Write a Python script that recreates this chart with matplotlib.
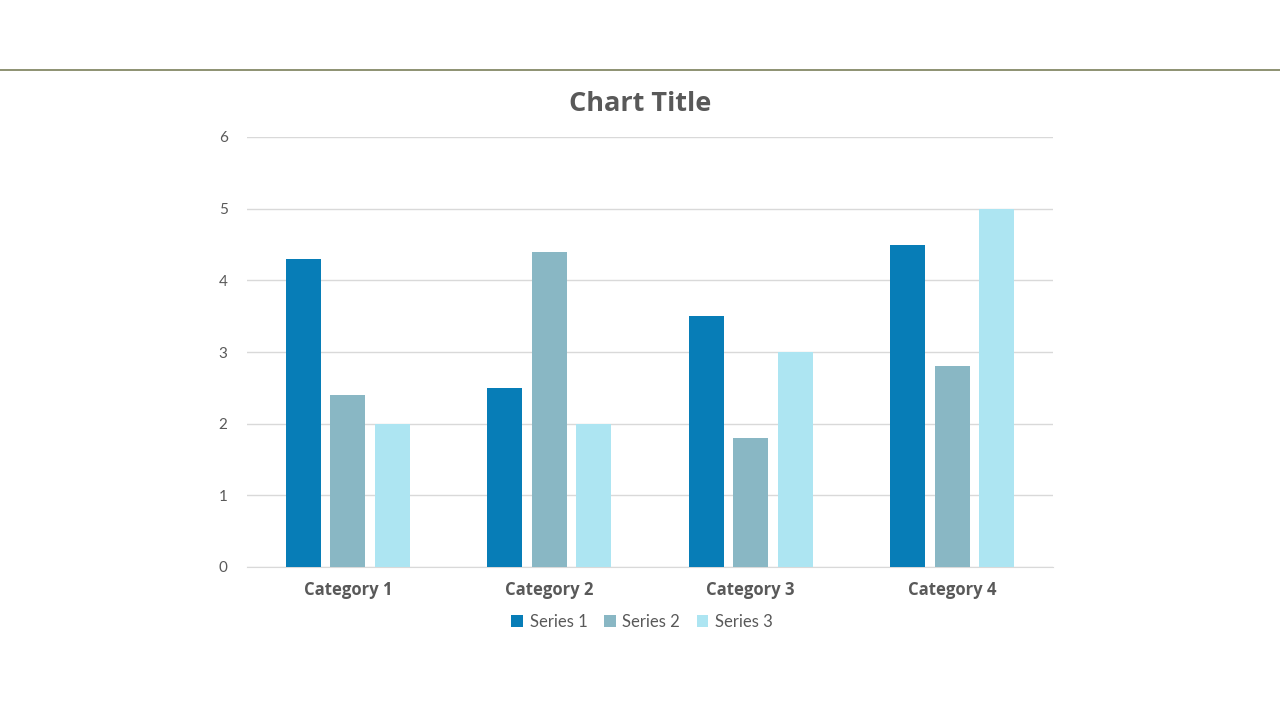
import matplotlib
matplotlib.use("Agg")
import matplotlib.pyplot as plt
import numpy as np
from matplotlib.lines import Line2D

categories = ["Category 1", "Category 2", "Category 3", "Category 4"]
series_names = ["Series 1", "Series 2", "Series 3"]
series1 = [4.3, 2.5, 3.5, 4.5]
series2 = [2.4, 4.4, 1.8, 2.8]
series3 = [2.0, 2.0, 3.0, 5.0]
colors = ["#077DB7", "#89B7C4", "#ADE5F2"]
yticks = [0, 1, 2, 3, 4, 5, 6]

plt.rcParams['font.family'] = ['Lato', 'DejaVu Sans']
bold_family = ['Open Sans', 'DejaVu Sans']

fig = plt.figure(figsize=(12.8, 7.2), dpi=100)
fig.add_artist(Line2D([0, 1], [1 - 70/720, 1 - 70/720], color="#7A7F5A", lw=1.2, transform=fig.transFigure))

ax = fig.add_axes([247/1280, 1 - 567/720, (1053-247)/1280, (567-137)/720])
x = np.arange(len(categories))
width = 0.174
offset = 0.22
for i, (vals, name) in enumerate(zip([series1, series2, series3], series_names)):
    ax.bar(x + (i - 1) * offset, vals, width, color=colors[i], label=name, zorder=3)

ax.set_xlim(-0.5, 3.5)
ax.set_ylim(0, 6)
ax.set_yticks(yticks)
ax.set_yticklabels([str(t) for t in yticks], color="#595959", fontsize=11)
ax.set_xticks(x)
ax.set_xticklabels(categories, color="#595959", fontsize=12, fontweight="bold", family=bold_family)
ax.tick_params(axis="both", length=0)
ax.tick_params(axis="y", pad=14)
ax.tick_params(axis="x", pad=10)
ax.grid(axis="y", color="#D9D9D9", lw=1, zorder=0)
for s in ["top", "right", "left"]:
    ax.spines[s].set_visible(False)
ax.spines["bottom"].set_color("#D9D9D9")

fig.text(640/1280, 1 - 104/720, "Chart Title", ha="center", va="center", fontsize=19.5,
         fontweight="bold", color="#595959", family=bold_family)

leg = fig.legend(loc="center", bbox_to_anchor=(642/1280, 1 - 622/720), ncol=3, frameon=False,
                 fontsize=12, handlelength=0.7, handleheight=0.7, handletextpad=0.4,
                 columnspacing=1.0)
for t in leg.get_texts():
    t.set_color("#595959")

fig.savefig("out.png", dpi=100)
